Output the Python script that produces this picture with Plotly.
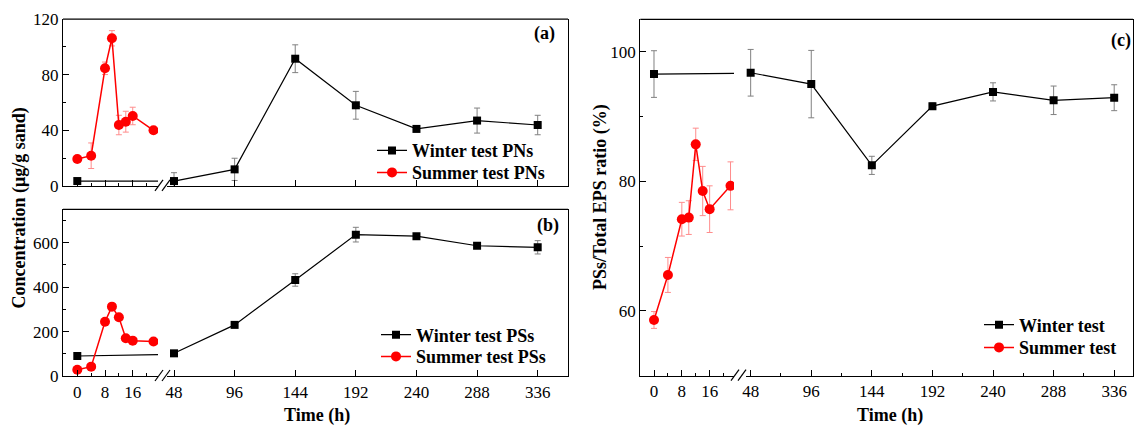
import plotly.graph_objects as go

W, H = 1134, 425

# ---------------- data ----------------
summer_t = [0, 4, 8, 10, 12, 14, 16, 22]
winter_t = [0, 48, 96, 144, 192, 240, 288, 336]

pn_summer = [19.4, 21.7, 84.6, 106.2, 43.8, 46.2, 50.3, 40.0]
pn_summer_err = [1.5, 9.2, 4.5, 5.5, 7.0, 7.5, 6.3, 1.0]
pn_winter = [3.5, 3.5, 11.9, 91.5, 58.0, 41.0, 47.0, 43.8]
pn_winter_err = [0.8, 6.0, 8.0, 10.0, 10.0, 2.0, 9.0, 7.0]

ps_summer = [28, 42, 244, 312, 264, 170, 159, 155]
ps_summer_err = [4, 4, 8, 10, 8, 6, 5, 4]
ps_winter = [90, 102, 230, 432, 636, 629, 586, 579]
ps_winter_err = [5, 6, 8, 28, 33, 8, 12, 30]

ratio_summer = [58.6, 65.55, 74.15, 74.4, 85.7, 78.5, 75.7, 79.3]
ratio_summer_err = [1.3, 2.7, 2.6, 2.6, 2.5, 3.8, 3.6, 3.7]
ratio_winter = [96.55, 96.75, 95.0, 82.46, 91.6, 93.8, 92.5, 92.9]
ratio_winter_err = [3.6, 3.6, 5.2, 1.4, 0.5, 1.4, 2.2, 2.0]

names = {
    "a": ("Winter test PNs", "Summer test PNs"),
    "b": ("Winter test PSs", "Summer test PSs"),
    "c": ("Winter test", "Summer test"),
}
y_title_left = "Concentration (μg/g sand)"
y_title_right = "PSs/Total EPS ratio (%)"
x_title = "Time (h)"

# ---------------- style / layout helpers ----------------
FONT = "Liberation Serif"
BLACK = "#000000"
RED = "#ff0000"
WERR = "#808080"
SERR = "#ff8c8c"


def fx(p):
    return p / W


def fy(p):
    return 1 - p / H


panels = [
    dict(key="a", n=1, ydom=(19.1, 185.9), seg1=(63, 158), seg2=(167, 568),
         r1=[-4.13, 23.3], r2=[42.46, 360], yr=[0, 120], dt=40, mdt=20,
         xlabels=False, minor2=False, wy=pn_winter, we=pn_winter_err,
         sy=pn_summer, se=pn_summer_err, legends=("legend", "legend2"),
         label=("(a)", 557, 34), leg=(372, 150.7, 172.7)),
    dict(key="b", n=3, ydom=(209.3, 376.0), seg1=(63, 158), seg2=(167, 568),
         r1=[-4.13, 23.3], r2=[42.46, 360], yr=[0, 750], dt=200, mdt=100,
         xlabels=True, minor2=False, wy=ps_winter, we=ps_winter_err,
         sy=ps_summer, se=ps_summer_err, legends=("legend3", "legend4"),
         label=("(b)", 561, 225.5), leg=(376, 335.0, 356.7)),
    dict(key="c", n=5, ydom=(19.3, 375.7), seg1=(640.3, 734), seg2=(746, 1133),
         r1=[-3.94, 23.0], r2=[44.3, 350.9], yr=[50, 105], dt=20, mdt=10,
         xlabels=True, minor2=True, wy=ratio_winter, we=ratio_winter_err,
         sy=ratio_summer, se=ratio_summer_err, legends=("legend5", "legend6"),
         label=("(c)", 1133, 40), leg=(979, 325.0, 347.7)),
]

fig = go.Figure()
layout = dict(
    width=W, height=H, autosize=False,
    margin=dict(l=0, r=0, t=0, b=0, pad=0, autoexpand=False),
    paper_bgcolor="white", plot_bgcolor="white",
    font=dict(family=FONT, size=17, color=BLACK),
    shapes=[], annotations=[],
)

tickfont = dict(family=FONT, size=17, color=BLACK)

for p in panels:
    n = p["n"]
    xa1, xa2 = f"x{'' if n == 1 else n}", f"x{n + 1}"
    ya1, ya2 = f"y{'' if n == 1 else n}", f"y{n + 1}"
    k1 = "xaxis" if n == 1 else f"xaxis{n}"
    k2 = f"xaxis{n + 1}"
    ky1 = "yaxis" if n == 1 else f"yaxis{n}"
    ky2 = f"yaxis{n + 1}"
    ydom = [fy(p["ydom"][1]), fy(p["ydom"][0])]

    common_x = dict(showline=True, linecolor=BLACK, linewidth=1.2, showgrid=False,
                    zeroline=False, ticks="inside", ticklen=6, tickwidth=1.2,
                    tickcolor=BLACK, tickfont=tickfont, showticklabels=p["xlabels"],
                    fixedrange=True, automargin=False)
    layout[k1] = dict(common_x, domain=[fx(p["seg1"][0]), fx(p["seg1"][1])],
                      range=p["r1"], anchor=ya1, tick0=0, dtick=8,
                      minor=dict(dtick=4, ticks="inside", ticklen=3, tickcolor=BLACK,
                                 tickwidth=1.2, showgrid=False))
    ax2 = dict(common_x, domain=[fx(p["seg2"][0]), fx(p["seg2"][1])],
               range=p["r2"], anchor=ya2, tick0=0, dtick=48)
    if p["minor2"]:
        ax2["minor"] = dict(dtick=24, ticks="inside", ticklen=3, tickcolor=BLACK,
                            tickwidth=1.2, showgrid=False)
    layout[k2] = ax2
    layout[ky1] = dict(domain=ydom, range=p["yr"], anchor=xa1, showline=True,
                       linecolor=BLACK, linewidth=1.2, showgrid=False, zeroline=False,
                       ticks="inside", ticklen=6, tickwidth=1.2, tickcolor=BLACK,
                       tick0=0, dtick=p["dt"], tickfont=tickfont, fixedrange=True,
                       automargin=False,
                       minor=dict(dtick=p["mdt"], ticks="inside", ticklen=3,
                                  tickcolor=BLACK, tickwidth=1.2, showgrid=False))
    layout[ky2] = dict(domain=ydom, range=p["yr"], anchor=xa2, side="right",
                       showline=True, linecolor=BLACK, linewidth=1.2, showgrid=False,
                       zeroline=False, ticks="", showticklabels=False, fixedrange=True,
                       automargin=False)

    # top frame line
    layout["shapes"].append(dict(type="line", xref="paper", yref="paper",
                                 x0=fx(p["seg1"][0]), x1=fx(p["seg2"][1]),
                                 y0=ydom[1], y1=ydom[1],
                                 line=dict(color=BLACK, width=1.2)))
    # axis break marks
    yb = p["ydom"][1]
    xs = p["seg1"][1]
    for off in (-3, 4):
        layout["shapes"].append(dict(type="line", xref="paper", yref="paper",
                                     x0=fx(xs + off), x1=fx(xs + off + 8),
                                     y0=fy(yb + 5), y1=fy(yb - 6),
                                     line=dict(color=BLACK, width=1.2)))

    wname, sname = names[p["key"]]
    lw, ls = p["legends"]
    # winter, left segment (0 h and the line toward 48 h)
    fig.add_trace(go.Scatter(
        x=winter_t[:2], y=p["wy"][:2], xaxis=xa1, yaxis=ya1, mode="lines+markers",
        line=dict(color=BLACK, width=1.2),
        marker=dict(symbol="square", size=8, color=BLACK),
        error_y=dict(type="data", array=p["we"][:2], color=WERR, thickness=1, width=3),
        showlegend=False, legend=lw, hoverinfo="skip"))
    # winter, right segment
    fig.add_trace(go.Scatter(
        x=winter_t[1:], y=p["wy"][1:], xaxis=xa2, yaxis=ya2, mode="lines+markers",
        name=wname, line=dict(color=BLACK, width=1.2),
        marker=dict(symbol="square", size=8, color=BLACK),
        error_y=dict(type="data", array=p["we"][1:], color=WERR, thickness=1, width=3),
        legend=lw))
    # summer
    fig.add_trace(go.Scatter(
        x=summer_t, y=p["sy"], xaxis=xa1, yaxis=ya1, mode="lines+markers",
        name=sname, line=dict(color=RED, width=1.5),
        marker=dict(symbol="circle", size=10, color=RED),
        error_y=dict(type="data", array=p["se"], color=SERR, thickness=1, width=3),
        legend=ls))

    lx, ly1, ly2 = p["leg"]
    for lname, ly in ((lw, ly1), (ls, ly2)):
        layout[lname] = dict(x=fx(lx), y=fy(ly), xanchor="left",
                             yanchor="middle", bgcolor="rgba(0,0,0,0)",
                             font=dict(family=FONT, size=18, color=BLACK,
                                       weight="bold"),
                             tracegroupgap=0, itemsizing="trace")

    # panel label
    lab, lxp, lyp = p["label"]
    layout["annotations"].append(dict(text=f"<b>{lab}</b>", xref="paper", yref="paper",
                                      x=fx(lxp), y=fy(lyp), xanchor="right",
                                      yanchor="middle", showarrow=False,
                                      font=dict(family=FONT, size=18, color=BLACK)))

# axis titles
titles = [
    (y_title_left, 18.5, 208, 270),
    (y_title_right, 600, 197, 270),
    (x_title, 316.5, 415, 0),
    (x_title, 890, 415, 0),
]
for t, x, y, ang in titles:
    layout["annotations"].append(dict(text=f"<b>{t}</b>", xref="paper", yref="paper",
                                      x=fx(x), y=fy(y), xanchor="center",
                                      yanchor="middle", showarrow=False,
                                      textangle=-90 if ang else 0,
                                      font=dict(family=FONT, size=18, color=BLACK)))

fig.update_layout(**layout)
fig.write_html(
    "out.html",
    config={"displayModeBar": False},
    post_script="document.body.style.margin='0';document.body.style.overflow='hidden';",
)
